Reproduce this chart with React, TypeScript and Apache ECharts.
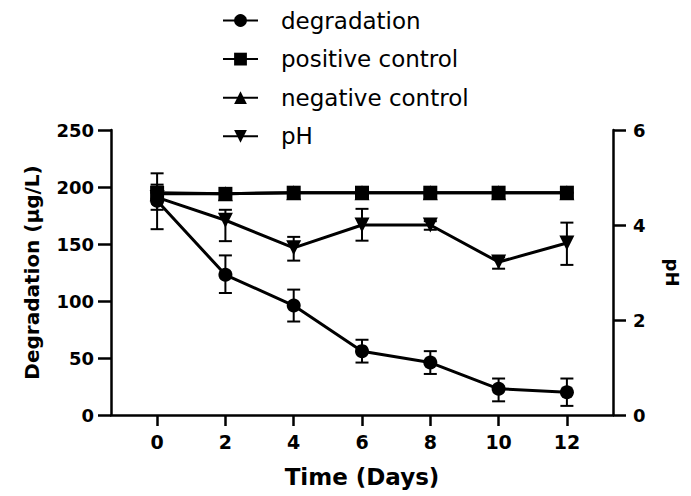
import React, { useEffect, useRef } from "react";
import * as echarts from "echarts";

const days = [0, 2, 4, 6, 8, 10, 12];
const xTickValues = [0, 2, 4, 6, 8, 10, 12];
const degradation = [188, 123, 96, 56, 46, 23, 20];
const degradationLow = [163, 107, 82, 46, 36, 12, 8];
const degradationHigh = [212, 140, 110, 66, 56, 32, 32];
const positiveControl = [195, 194, 195, 195, 195, 195, 195];
const positiveLow = [195, 194, 195, 195, 193, 195, 195];
const positiveHigh = [195, 194, 195, 195, 198, 195, 195];
const negativeControl = [194, 194, 195, 195, 195, 195, 195];
const ph = [4.58, 4.1, 3.52, 4.0, 4.0, 3.22, 3.62];
const phLow = [4.32, 3.66, 3.25, 3.67, 3.9, 3.08, 3.16];
const phHigh = [4.85, 4.32, 3.75, 4.34, 4.08, 3.32, 4.05];

const FONT = "DejaVu Sans";
const BLACK = "#000";

function errorSeries(low: number[], high: number[], yAxisIndex: number) {
  return {
    type: "custom",
    yAxisIndex,
    z: 1,
    silent: true,
    data: days.map((d, i) => [d, low[i], high[i]]),
    encode: { x: 0, y: [1, 2] },
    renderItem: (params: any, api: any) => {
      const x = api.value(0);
      const lo = api.coord([x, api.value(1)]);
      const hi = api.coord([x, api.value(2)]);
      const cap = 6.5;
      const style = { stroke: BLACK, lineWidth: 2 };
      return {
        type: "group",
        children: [
          { type: "line", shape: { x1: lo[0], y1: lo[1], x2: hi[0], y2: hi[1] }, style },
          { type: "line", shape: { x1: lo[0] - cap, y1: lo[1], x2: lo[0] + cap, y2: lo[1] }, style },
          { type: "line", shape: { x1: hi[0] - cap, y1: hi[1], x2: hi[0] + cap, y2: hi[1] }, style },
        ],
      };
    },
  };
}

function lineSeries(name: string, values: number[], symbol: string, size: number, extra: any = {}) {
  return {
    name,
    type: "line",
    data: days.map((d, i) => [d, values[i]]),
    symbol,
    symbolSize: size,
    showSymbol: true,
    lineStyle: { color: BLACK, width: 3 },
    itemStyle: { color: BLACK, borderWidth: 0 },
    emphasis: { disabled: true },
    ...extra,
  };
}

export default function App() {
  const ref = useRef<HTMLDivElement>(null);
  useEffect(() => {
    if (!ref.current) return;
    const chart = echarts.init(ref.current, undefined, { renderer: "svg" });
    const axisLineStyle = { color: BLACK, width: 2.5 };
    chart.setOption({
      animation: false,
      backgroundColor: "#fff",
      legend: {
        orient: "vertical",
        left: 222,
        top: 9,
        padding: 0,
        itemWidth: 35,
        itemHeight: 16,
        itemGap: 15.6,
        data: ["degradation", "positive control", "negative control", "pH"],
        textStyle: { fontSize: 23, fontFamily: FONT, color: BLACK, padding: [0, 0, 0, 18] },
      },
      grid: { left: 111, right: 78, top: 130, bottom: 81 },
      xAxis: {
        type: "value",
        min: -1.35,
        max: 13.35,
        splitLine: { show: false },
        axisLine: { show: true, onZero: false, lineStyle: axisLineStyle },
        axisTick: { show: true, customValues: xTickValues, length: 11, lineStyle: axisLineStyle },
        axisLabel: {
          customValues: xTickValues,
          fontSize: 19,
          fontWeight: "bold",
          fontFamily: FONT,
          color: BLACK,
          margin: 17,
        },
        name: "Time (Days)",
        nameLocation: "middle",
        nameGap: 50,
        nameTextStyle: { fontSize: 23, fontWeight: "bold", fontFamily: FONT, color: BLACK },
      },
      yAxis: [
        {
          type: "value",
          position: "left",
          min: 0,
          max: 250,
          interval: 50,
          splitLine: { show: false },
          axisLine: { show: true, onZero: false, lineStyle: axisLineStyle },
          axisTick: { show: true, length: 13, lineStyle: axisLineStyle },
          axisLabel: { fontSize: 18, fontWeight: "bold", fontFamily: FONT, color: BLACK, margin: 17 },
          name: "Degradation (μg/L)",
          nameLocation: "middle",
          nameRotate: 90,
          nameGap: 69,
          nameTextStyle: { fontSize: 20, fontWeight: "bold", fontFamily: FONT, color: BLACK },
        },
        {
          type: "value",
          position: "right",
          min: 0,
          max: 6,
          interval: 2,
          splitLine: { show: false },
          axisLine: { show: true, onZero: false, lineStyle: axisLineStyle },
          axisTick: { show: true, length: 13, lineStyle: axisLineStyle },
          axisLabel: { fontSize: 18, fontWeight: "bold", fontFamily: FONT, color: BLACK, margin: 20 },
          name: "pH",
          nameLocation: "middle",
          nameRotate: -90,
          nameGap: 50,
          nameTextStyle: { fontSize: 18, fontWeight: "bold", fontFamily: FONT, color: BLACK },
        },
      ],
      series: [
        errorSeries(degradationLow, degradationHigh, 0),
        errorSeries(positiveLow, positiveHigh, 0),
        errorSeries(phLow, phHigh, 1),
        lineSeries("degradation", degradation, "circle", 14, { z: 3 }),
        lineSeries("negative control", negativeControl, "triangle", 15, { z: 3 }),
        lineSeries("pH", ph, "triangle", 15, { z: 3, yAxisIndex: 1, symbolRotate: 180 }),
        lineSeries("positive control", positiveControl, "rect", 14, { z: 4 }),
      ],
    });
    return () => chart.dispose();
  }, []);
  return (
    <div
      ref={ref}
      style={{ position: "fixed", left: 0, top: 0, width: 691, height: 496, background: "#fff" }}
    />
  );
}
